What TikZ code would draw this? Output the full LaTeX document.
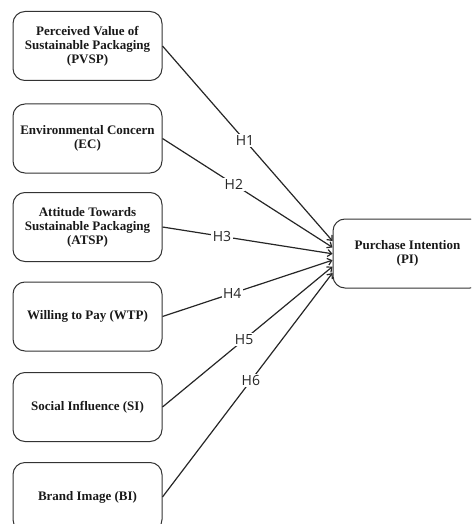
\documentclass[tikz,border=0pt]{standalone}
\usepackage{fontspec}
\setmainfont{Liberation Serif}
\newfontfamily\hypfont{Open Sans}
\usetikzlibrary{positioning,calc,arrows.meta}

\begin{document}
\begin{tikzpicture}[x=1pt,y=-1pt,
  factor/.style={rectangle,rounded corners=12pt,draw=black!80,line width=1pt,minimum width=149pt,minimum height=69pt,inner sep=0,align=center,text=black!90,font=\fontsize{13}{14}\selectfont\bfseries},
  hyp/.style={fill=white,inner sep=1.5pt,text=black!85,font=\hypfont\fontsize{14}{16}\selectfont},
  link/.style={draw=black!85,line width=1.2pt,-{Straight Barb[length=4pt,width=7pt]}}]
\useasboundingbox (0,0) rectangle (471,524);
\clip (0,0) rectangle (471,524);
\node[factor] (pvsp) at (87.5,46) {Perceived Value of\\Sustainable Packaging\\(PVSP)};
\node[factor] (ec) at (87.5,138.5) {Environmental Concern\\(EC)};
\node[factor] (atsp) at (87.5,227) {Attitude Towards\\Sustainable Packaging\\(ATSP)};
\node[factor] (wtp) at (87.5,316.5) {Willing to Pay (WTP)};
\node[factor] (si) at (87.5,407) {Social Influence (SI)};
\node[factor] (bi) at (87.5,497) {Brand Image (BI)};
\node[factor] (pi) at (407.5,253.5) {Purchase Intention\\(PI)};
\foreach \src/\h/\dy/\p in {pvsp/1/-12.5/0.485,ec/2/-6.1/0.42,atsp/3/0.3/0.35,wtp/4/6.7/0.41,si/5/13.1/0.48,bi/6/19.5/0.52} {
  \coordinate (end\h) at ($(pi.west)+(0,\dy)$);
  \draw[link] (\src.east) -- (end\h) node[hyp,pos=\p] {H\h};
}
\end{tikzpicture}
\end{document}
